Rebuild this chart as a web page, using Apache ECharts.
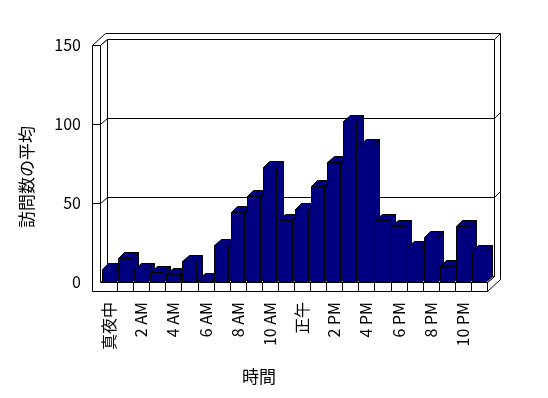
<!DOCTYPE html>
<html>
<head>
<meta charset="utf-8">
<script src="https://cdn.jsdelivr.net/npm/echarts@6/dist/echarts.min.js"></script>
<style>
  html, body { margin: 0; padding: 0; background: #fff; }
  #chart { width: 548px; height: 398px; }
</style>
</head>
<body>
<div id="chart"></div>
<script>
// 時間ごとの訪問数の平均
const hours = ['真夜中', '1 AM', '2 AM', '3 AM', '4 AM', '5 AM', '6 AM', '7 AM', '8 AM', '9 AM', '10 AM', '11 AM',
  '正午', '1 PM', '2 PM', '3 PM', '4 PM', '5 PM', '6 PM', '7 PM', '8 PM', '9 PM', '10 PM', '11 PM'];
const visits = [8.4, 15.1, 8.4, 6.3, 5.0, 13.3, 1.9, 23.4, 44.2, 54.3, 72.8, 39.1,
  46.1, 60.8, 75.8, 101.8, 86.5, 39.1, 35.4, 22.1, 28.4, 10.1, 35.4, 19.6];
const yTicks = [0, 50, 100, 150];

const FONT = '"Noto Sans CJK JP", "DejaVu Sans", sans-serif';
const NAVY = '#000080';
const DX = 6.5, DY = -6;   // 奥行き
const WALL = 8, FLOOR = 9; // 壁と床の厚さ

const px = v => Math.round(v) + 0.5;
const pt = (x, y) => [px(x), px(y)];
const lineStyle = { stroke: '#000', lineWidth: 1, fill: null };
const wallStyle = { fill: '#fff', stroke: '#000', lineWidth: 1 };

// 壁・床・目盛線
function renderFrame(params, api) {
  const cs = params.coordSys;
  const X0 = cs.x, X1 = cs.x + cs.width, Yt = cs.y, Yb = cs.y + cs.height;
  const XL = X0 - 1;
  const cell = api.size([1, 0])[0];
  const kids = [];
  const poly = pts => kids.push({ type: 'polygon', shape: { points: pts.map(p => pt(p[0], p[1])) }, style: wallStyle });
  const line = (x1, y1, x2, y2) => kids.push({
    type: 'line', shape: { x1: px(x1), y1: px(y1), x2: px(x2), y2: px(y2) }, style: lineStyle
  });

  // 奥の壁
  poly([[XL + DX, Yt + DY], [X1 + DX, Yt + DY], [X1 + DX, Yb + DY], [XL + DX, Yb + DY]]);
  // 上面
  poly([[XL - WALL, Yt], [XL, Yt], [XL + DX, Yt + DY], [X1 + DX, Yt + DY], [X1 + 2 * DX, Yt + 2 * DY], [XL - WALL + 2 * DX, Yt + 2 * DY]]);
  // 右側面
  poly([[X1 + DX, Yt + DY], [X1 + 2 * DX, Yt + 2 * DY], [X1 + 2 * DX, Yb + FLOOR + 2 * DY], [X1, Yb + FLOOR], [X1, Yb], [X1 + DX, Yb + DY]]);
  // 左の壁の内側
  poly([[XL, Yt], [XL + DX, Yt + DY], [XL + DX, Yb + DY], [XL, Yb]]);
  // 床の上面
  poly([[XL, Yb], [X1, Yb], [X1 + DX, Yb + DY], [XL + DX, Yb + DY]]);
  // 前面
  poly([[XL - WALL, Yt], [XL, Yt], [XL, Yb], [X1, Yb], [X1, Yb + FLOOR], [XL - WALL, Yb + FLOOR]]);

  for (let k = 1; k <= hours.length; k++) {
    const x = X0 + k * cell;
    line(x, Yb, x, Yb + FLOOR);
  }
  yTicks.slice(1, -1).forEach(v => {
    const y = api.coord([0, v])[1];
    line(XL - WALL, y, XL, y);
    line(XL, y, XL + DX, y + DY);
    line(XL + DX, y + DY, X1 + DX, y + DY);
    line(X1 + DX, y + DY, X1 + 2 * DX, y + 2 * DY);
  });
  return { type: 'group', children: kids };
}

// 立体の棒
function renderBar(params, api) {
  const top = api.coord([api.value(0), api.value(1)]);
  const base = api.coord([api.value(0), 0]);
  const bw = api.size([1, 0])[0] * 0.83;
  const x0 = top[0] - bw / 2 - 0.5, x1 = x0 + bw;
  const yt = top[1], yb = base[1];
  const style = { fill: NAVY, stroke: '#000', lineWidth: 1 };
  const P = pts => ({ type: 'polygon', shape: { points: pts.map(p => pt(p[0], p[1])) }, style });
  return {
    type: 'group',
    children: [
      P([[x0, yt], [x1, yt], [x1 + DX, yt + DY], [x0 + DX, yt + DY]]),
      P([[x1, yt], [x1 + DX, yt + DY], [x1 + DX, yb + DY], [x1, yb]]),
      P([[x0, yt], [x1, yt], [x1, yb], [x0, yb]])
    ]
  };
}

const myChart = echarts.init(document.getElementById('chart'));
myChart.setOption({
  animation: false,
  grid: { left: 101, right: 61, top: 45, bottom: 116 },
  xAxis: {
    type: 'category',
    data: hours,
    axisLine: { show: false },
    axisTick: { show: false },
    axisLabel: { interval: 1, rotate: 90, margin: 20, color: '#000', fontSize: 16, fontFamily: FONT }
  },
  yAxis: {
    type: 'value',
    min: yTicks[0],
    max: yTicks[yTicks.length - 1],
    interval: yTicks[1] - yTicks[0],
    axisLine: { show: false },
    axisTick: { show: false },
    splitLine: { show: false },
    axisLabel: { margin: 20, color: '#000', fontSize: 16, fontFamily: FONT }
  },
  graphic: [
    { type: 'text', x: 27, y: 177, rotation: Math.PI / 2,
      style: { text: '訪問数の平均', fontSize: 17, fontFamily: FONT, fill: '#000', align: 'center', verticalAlign: 'middle' } },
    { type: 'text', x: 259, y: 377,
      style: { text: '時間', fontSize: 17, fontFamily: FONT, fill: '#000', align: 'center', verticalAlign: 'middle' } }
  ],
  series: [
    { type: 'custom', renderItem: renderFrame, data: [[0, 0]], z: 1, silent: true },
    { type: 'custom', renderItem: renderBar, data: visits.map((v, i) => [i, v]), encode: { x: 0, y: 1 }, z: 2 }
  ]
});
</script>
</body>
</html>
